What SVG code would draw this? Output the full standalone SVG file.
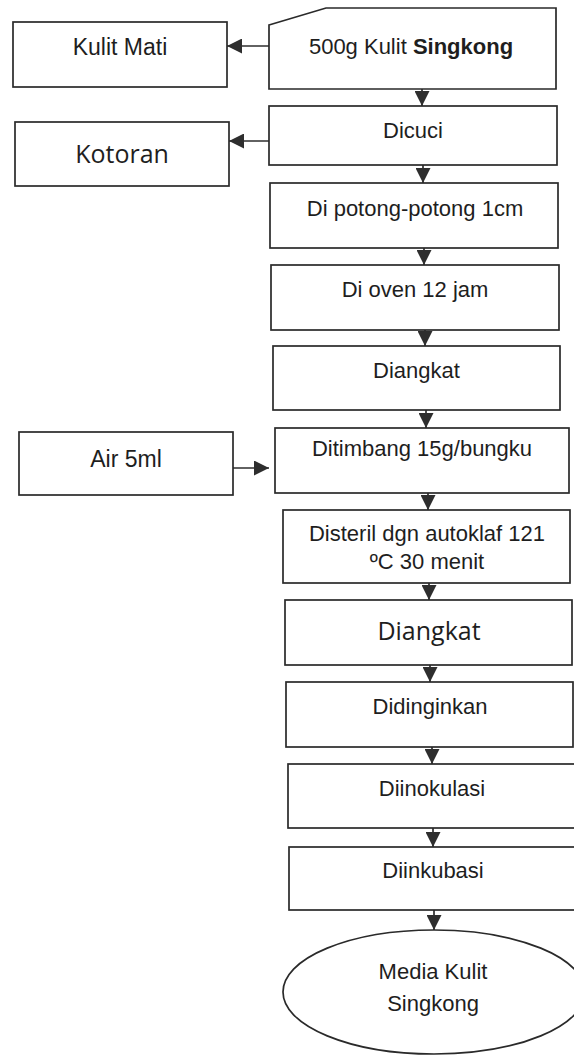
<svg xmlns="http://www.w3.org/2000/svg" width="574" height="1057" viewBox="0 0 574 1057">
  <defs>
    <marker id="head" viewBox="0 0 15 15" refX="15" refY="7.5" markerWidth="15" markerHeight="15" markerUnits="userSpaceOnUse" orient="auto">
      <path d="M0,0 L15,7.5 L0,15 Z" fill="#2e2e2e"/>
    </marker>
    <style>
      .box { fill: #ffffff; stroke: #2a2a2a; stroke-width: 1.7; }
      .link { stroke: #2e2e2e; stroke-width: 1.7; fill: none; marker-end: url(#head); }
      .t { font-family: "Liberation Sans", Arial, sans-serif; font-size: 22px; fill: #1e1e1e; text-anchor: middle; }
      .side { font-size: 23px; }
      .c { font-family: "Open Sans", "Noto Sans", sans-serif; font-size: 25px; fill: #1e1e1e; text-anchor: middle; }
    </style>
  </defs>
  <rect width="574" height="1057" fill="#ffffff"/>

  <!-- connectors -->
  <g id="connectors">
    <line class="link" x1="269" y1="46" x2="227" y2="46"/>
    <line class="link" x1="422" y1="89" x2="422" y2="106"/>
    <line class="link" x1="269" y1="141" x2="229" y2="141"/>
    <line class="link" x1="423" y1="165" x2="423" y2="183"/>
    <line class="link" x1="424" y1="248" x2="424" y2="265"/>
    <line class="link" x1="425" y1="330" x2="425" y2="346"/>
    <line class="link" x1="426" y1="410" x2="426" y2="428"/>
    <line class="link" x1="233" y1="468" x2="269" y2="468"/>
    <line class="link" x1="428" y1="493" x2="428" y2="510"/>
    <line class="link" x1="429" y1="583" x2="429" y2="600"/>
    <line class="link" x1="430" y1="665" x2="430" y2="682"/>
    <line class="link" x1="432" y1="747" x2="432" y2="764"/>
    <line class="link" x1="433" y1="828" x2="433" y2="847"/>
    <line class="link" x1="434" y1="910" x2="434" y2="930"/>
  </g>

  <!-- source material (manual input shape) -->
  <g id="n-input">
    <polygon class="box" points="269,25 326,8 556,8 556,89 269,89"/>
    <text class="t" x="411" y="54">500g Kulit <tspan font-weight="bold">Singkong</tspan></text>
  </g>
  <g id="n-kulit-mati">
    <rect class="box" x="13" y="22" width="214" height="65"/>
    <text class="t side" x="120" y="55">Kulit Mati</text>
  </g>
  <g id="n-dicuci">
    <rect class="box" x="269" y="106" width="288" height="59"/>
    <text class="t" x="413" y="138">Dicuci</text>
  </g>
  <g id="n-kotoran">
    <rect class="box" x="15" y="122" width="214" height="64"/>
    <text class="c" x="122" y="163">Kotoran</text>
  </g>
  <g id="n-potong">
    <rect class="box" x="270" y="183" width="288" height="65"/>
    <text class="t" x="415" y="216">Di potong-potong 1cm</text>
  </g>
  <g id="n-oven">
    <rect class="box" x="271" y="265" width="288" height="65"/>
    <text class="t" x="415" y="297">Di oven 12 jam</text>
  </g>
  <g id="n-angkat1">
    <rect class="box" x="273" y="346" width="287" height="64"/>
    <text class="t" x="416.5" y="378">Diangkat</text>
  </g>
  <g id="n-timbang">
    <rect class="box" x="275" y="428" width="294" height="65"/>
    <text class="t" x="422" y="456">Ditimbang 15g/bungku</text>
  </g>
  <g id="n-air">
    <rect class="box" x="19" y="432" width="214" height="63"/>
    <text class="t side" x="126" y="467">Air 5ml</text>
  </g>
  <g id="n-steril">
    <rect class="box" x="283" y="510" width="287" height="73"/>
    <text class="t" x="427" y="541">Disteril dgn autoklaf 121</text>
    <text class="t" x="427" y="569">ºC 30 menit</text>
  </g>
  <g id="n-angkat2">
    <rect class="box" x="285" y="600" width="287" height="65"/>
    <text class="c" x="429" y="640">Diangkat</text>
  </g>
  <g id="n-dingin">
    <rect class="box" x="286" y="682" width="287" height="65"/>
    <text class="t" x="430" y="714">Didinginkan</text>
  </g>
  <g id="n-inokulasi">
    <rect class="box" x="288" y="764" width="288" height="64"/>
    <text class="t" x="432" y="796">Diinokulasi</text>
  </g>
  <g id="n-inkubasi">
    <rect class="box" x="289" y="847" width="289" height="63"/>
    <text class="t" x="433" y="878">Diinkubasi</text>
  </g>
  <g id="n-media">
    <ellipse class="box" cx="434" cy="992" rx="151" ry="62"/>
    <text class="t" x="433" y="979" font-size="23">Media Kulit</text>
    <text class="t" x="433" y="1011" font-size="23">Singkong</text>
  </g>
</svg>
